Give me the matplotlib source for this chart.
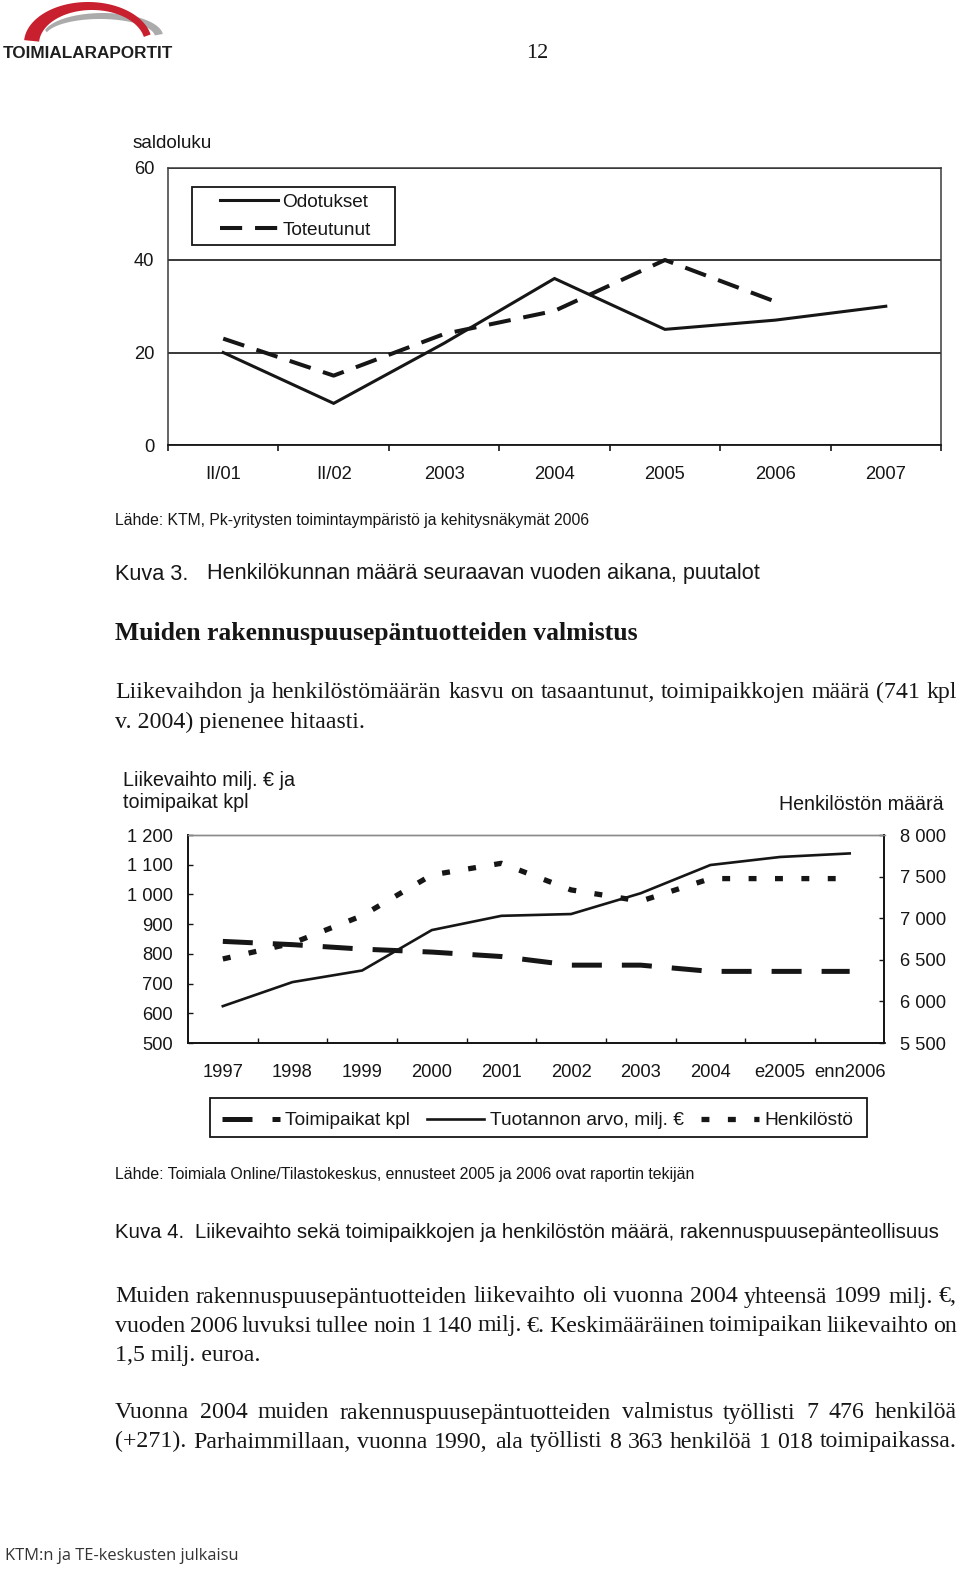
import numpy as np
import matplotlib
matplotlib.use("Agg")
import matplotlib.pyplot as plt
from matplotlib import font_manager
from matplotlib.font_manager import FontProperties
from matplotlib.patches import Rectangle, Polygon

# ---------------- data ----------------
periods1 = ["II/01", "II/02", "2003", "2004", "2005", "2006", "2007"]
odotukset = [20, 9, 22, 36, 25, 27, 30]
toteutunut = [23, 15, 24, 29, 40, 31, np.nan]
y1_ticks = [0, 20, 40, 60]

years2 = ["1997", "1998", "1999", "2000", "2001", "2002", "2003", "2004", "e2005", "enn2006"]
toimipaikat = [842, 831, 816, 806, 791, 762, 762, 741, 741, 741]
tuotannon = [624, 705, 744, 880, 928, 934, 1004, 1099, 1126, 1138]
henkilosto = [6510, 6700, 7030, 7520, 7660, 7340, 7205, 7476, 7476, 7476]
left_ticks = [500, 600, 700, 800, 900, 1000, 1100, 1200]
left_ticklabels = ["500", "600", "700", "800", "900", "1 000", "1 100", "1 200"]
right_ticks = [5500, 6000, 6500, 7000, 7500, 8000]
right_ticklabels = ["5 500", "6 000", "6 500", "7 000", "7 500", "8 000"]

# ---------------- setup ----------------
W, H = 960, 1570
fig = plt.figure(figsize=(W / 100, H / 100), dpi=100)
fig.patch.set_facecolor("white")


def has_font(name):
    try:
        font_manager.findfont(FontProperties(family=name), fallback_to_default=False)
        return True
    except Exception:
        return False


SANS = "Liberation Sans" if has_font("Liberation Sans") else "DejaVu Sans"
NARROW = "Liberation Sans Narrow" if has_font("Liberation Sans Narrow") else SANS
SERIF = "Liberation Serif" if has_font("Liberation Serif") else "DejaVu Serif"
HUMAN = "Open Sans" if has_font("Open Sans") else SANS
INK = "#161616"
YOFF = 3

renderer = fig.canvas.get_renderer()


def fx(x):
    return x / W


def fy(y):
    return 1 - y / H


def text_width(s, size, family, weight="normal"):
    t = fig.text(0, 0, s, fontsize=size, family=family, weight=weight)
    w = t.get_window_extent(renderer).width
    t.remove()
    return w


def put(x, y, s, size, family, weight="normal", ha="left", color=INK):
    # place on a common baseline so that every word of a line sits level
    prop = FontProperties(family=family, size=size, weight=weight)
    _, h, d = renderer.get_text_width_height_descent("lp", prop, ismath=False)
    base = y + YOFF + h / 2 - d
    return fig.text(fx(x), fy(base), s, fontsize=size, family=family,
                    weight=weight, ha=ha, va="baseline", color=color)


def fit_size(s, width, family, weight="normal"):
    return 10 * width / text_width(s, 10, family, weight)


def fit(x, y, s, width, family, weight="normal", ha="left", color=INK):
    size = fit_size(s, width, family, weight)
    put(x, y, s, size, family, weight, ha, color)
    return size


def justify(x0, x1, y, s, size, family):
    words = s.split(" ")
    ws = [text_width(w, size, family) for w in words]
    gap = (x1 - x0 - sum(ws)) / (len(words) - 1)
    x = x0
    for w, wd in zip(words, ws):
        put(x, y, w, size, family)
        x += wd + gap


# ---------------- header / logo ----------------
lax = fig.add_axes([0, fy(70), 200 / W, 70 / H])
lax.set_xlim(0, 200)
lax.set_ylim(70, 0)
lax.axis("off")


def crescent(o, i, t0, t1, color):
    t = np.radians(np.linspace(t0, t1, 120))
    outer = np.c_[o[0] + o[2] * np.cos(t), o[1] - o[3] * np.sin(t)]
    tr = t[::-1]
    inner = np.c_[i[0] + i[2] * np.cos(tr), i[1] - i[3] * np.sin(tr)]
    lax.add_patch(Polygon(np.vstack([outer, inner]), closed=True,
                          facecolor=color, edgecolor="none"))


crescent((103, 36, 60, 23), (100, 37, 55, 18), 5, 165, "#ababab")
crescent((88, 43, 64, 41), (92, 44, 53, 34), 12, 176, "#c8202f")
fit(3, 51, "TOIMIALARAPORTIT", 169, SANS, weight="bold", color="#1f1f1f")
put(537, 50, "12", 16, SERIF, ha="center")

# ---------------- chart 1 ----------------
ax1 = fig.add_axes([fx(168), fy(445), (941 - 168) / W, (445 - 167.5) / H])
x1 = np.arange(len(periods1))
ax1.plot(x1, odotukset, color=INK, lw=2.2, solid_joinstyle="miter",
         label="Odotukset", zorder=3)
ax1.plot(x1, toteutunut, color=INK, lw=2.9, dashes=(5.5, 3.2),
         label="Toteutunut", zorder=3)
ax1.set_xlim(-0.5, len(periods1) - 0.5)
ax1.set_ylim(0, 60)
ax1.set_yticks(y1_ticks)
ax1.set_yticklabels([str(v) for v in y1_ticks])
ax1.tick_params(axis="y", length=0, pad=10, labelsize=13.2, labelcolor=INK)
ax1.set_xticks(x1)
ax1.set_xticklabels(periods1)
ax1.set_xticks(np.arange(-0.5, len(periods1)), minor=True)
ax1.tick_params(axis="x", which="major", length=0, pad=15, labelsize=13.2,
                labelcolor=INK)
ax1.tick_params(axis="x", which="minor", length=4, width=1.2,
                direction="out", color=INK)
for lab in ax1.get_xticklabels() + ax1.get_yticklabels():
    lab.set_family(SANS)
ax1.grid(axis="y", which="major", color=INK, lw=1.2)
ax1.set_axisbelow(True)
for side in ["top", "left", "right"]:
    ax1.spines[side].set_color("#3a3a3a")
    ax1.spines[side].set_linewidth(1.1)
ax1.spines["bottom"].set_color(INK)
ax1.spines["bottom"].set_linewidth(1.3)

box1 = Rectangle((fx(192), fy(245)), (395 - 192) / W, (245 - 187) / H,
                 transform=fig.transFigure, facecolor="white",
                 edgecolor=INK, lw=1.3, zorder=4, clip_on=False)
ax1.add_artist(box1)
leg1 = ax1.legend(loc="center left", bbox_to_anchor=(fx(220), fy(215 + 1)),
                  bbox_transform=fig.transFigure, frameon=False,
                  borderpad=0, borderaxespad=0, handlelength=3.05,
                  handletextpad=0.22, labelspacing=0.55,
                  prop={"family": SANS, "size": 13.7})
leg1.set_zorder(6)
for t in leg1.get_texts():
    t.set_color(INK)

fit(133, 140, "saldoluku", 80, SANS)
fit(115, 518, "Lähde: KTM, Pk-yritysten toimintaympäristö ja kehitysnäkymät 2006",
    476, NARROW)
ks = fit(207, 571, "Henkilökunnan määrä seuraavan vuoden aikana, puutalot", 557, NARROW)
put(115, 571, "Kuva 3.", ks, NARROW)
fit(115, 630, "Muiden rakennuspuusepäntuotteiden valmistus", 523, SERIF, weight="bold")

body = fit_size("v. 2004) pienenee hitaasti.", 250, SERIF)
justify(115, 957, 690,
        "Liikevaihdon ja henkilöstömäärän kasvu on tasaantunut, toimipaikkojen määrä (741 kpl",
        body, SERIF)
put(115, 719, "v. 2004) pienenee hitaasti.", body, SERIF)

# ---------------- chart 2 ----------------
ax2 = fig.add_axes([fx(188), fy(1043), (884.5 - 188) / W, (1043 - 835) / H])
ax2r = ax2.twinx()
x2 = np.arange(len(years2))
l_toimi, = ax2.plot(x2, toimipaikat, color=INK, lw=3.6, dashes=(6, 4),
                    label="Toimipaikat kpl", zorder=3)
l_tuot, = ax2.plot(x2, tuotannon, color=INK, lw=1.9, solid_joinstyle="miter",
                   label="Tuotannon arvo, milj. €", zorder=3)
l_henk, = ax2r.plot(x2, henkilosto, color=INK, lw=3.8, dashes=(1.5, 3.5),
                    label="Henkilöstö", zorder=3)
ax2.set_xlim(-0.5, len(years2) - 0.5)
ax2.set_ylim(500, 1200)
ax2r.set_ylim(5500, 8000)
ax2.set_yticks(left_ticks)
ax2.set_yticklabels(left_ticklabels)
ax2r.set_yticks(right_ticks)
ax2r.set_yticklabels(right_ticklabels)
ax2.set_xticks(x2)
ax2.set_xticklabels(years2)
ax2.set_xticks(np.arange(0.5, len(years2) - 1), minor=True)
ax2.tick_params(axis="y", direction="in", length=3.3, width=1.0, pad=10.8,
                labelsize=13.2, right=False, color=INK, labelcolor=INK)
ax2r.tick_params(axis="y", direction="in", length=3.3, width=1.0, pad=11,
                 labelsize=13.2, color=INK, labelcolor=INK)
ax2.tick_params(axis="x", which="major", length=0, pad=15, labelsize=13.2,
                labelcolor=INK)
ax2.tick_params(axis="x", which="minor", direction="in", length=3.5, width=1.0,
                color=INK)
for lab in ax2.get_xticklabels() + ax2.get_yticklabels() + ax2r.get_yticklabels():
    lab.set_family(SANS)
for a in (ax2, ax2r):
    a.spines["top"].set_color("#8a8a8a")
    a.spines["top"].set_linewidth(1.0)
    for side in ["left", "right", "bottom"]:
        a.spines[side].set_color(INK)
        a.spines[side].set_linewidth(1.3)

box2 = Rectangle((fx(210), fy(1137)), (867 - 210) / W, (1137 - 1098) / H,
                 transform=fig.transFigure, facecolor="white",
                 edgecolor=INK, lw=1.3, zorder=4, clip_on=False)
ax2r.add_artist(box2)
leg2 = ax2r.legend(handles=[l_toimi, l_tuot, l_henk], ncol=3,
                   loc="center left", bbox_to_anchor=(fx(222), fy(1117.5 + YOFF)),
                   bbox_transform=fig.transFigure, frameon=False,
                   borderpad=0, borderaxespad=0, handlelength=3.0,
                   handletextpad=0.3, columnspacing=0.88,
                   prop={"family": SANS, "size": 13.8})
leg2.set_zorder(6)
for t in leg2.get_texts():
    t.set_color(INK)

ls = fit(123, 777, "Liikevaihto milj. € ja", 172, SANS)
put(123, 799, "toimipaikat kpl", ls, SANS)
fit(944, 801, "Henkilöstön määrä", 164, SANS, ha="right")

fit(115, 1171, "Lähde: Toimiala Online/Tilastokeskus, ennusteet 2005 ja 2006 ovat raportin tekijän",
    581, NARROW)
ks4 = fit(195, 1229, "Liikevaihto sekä toimipaikkojen ja henkilöstön määrä, rakennuspuusepänteollisuus",
          745, NARROW)
put(115, 1229, "Kuva 4.", ks4, NARROW)

justify(115, 957, 1294,
        "Muiden rakennuspuusepäntuotteiden liikevaihto oli vuonna 2004 yhteensä 1099 milj. €,",
        body, SERIF)
justify(115, 957, 1323,
        "vuoden 2006 luvuksi tullee noin 1 140 milj. €. Keskimääräinen toimipaikan liikevaihto on",
        body, SERIF)
put(115, 1353, "1,5 milj. euroa.", body, SERIF)
justify(115, 957, 1410,
        "Vuonna 2004 muiden rakennuspuusepäntuotteiden valmistus työllisti 7 476 henkilöä",
        body, SERIF)
justify(115, 957, 1439,
        "(+271). Parhaimmillaan, vuonna 1990, ala työllisti 8 363 henkilöä 1 018 toimipaikassa.",
        body, SERIF)

fit(5, 1553, "KTM:n ja TE-keskusten julkaisu", 236, HUMAN, color="#333333")

fig.savefig("out.png", dpi=100, facecolor="white")
